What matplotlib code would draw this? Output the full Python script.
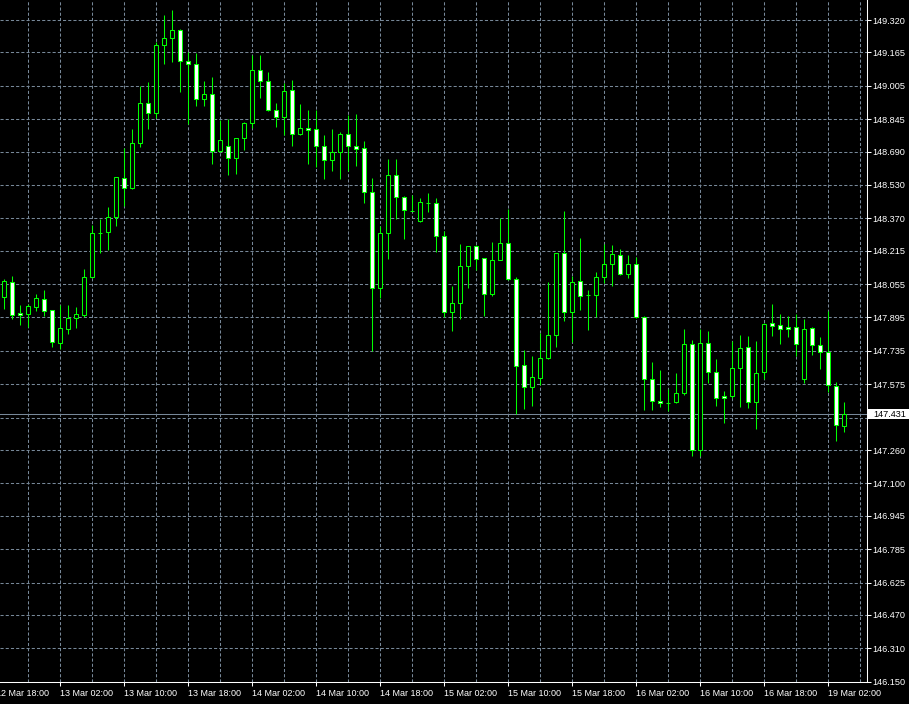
import numpy as np
import matplotlib
matplotlib.use("Agg")
import matplotlib.pyplot as plt
from matplotlib.patches import Rectangle
from matplotlib import transforms

# hourly bars, 12 Mar 19:00 .. 19 Mar 04:00
opens = [147.995, 148.066, 147.915, 147.913, 147.947, 147.982, 147.930, 147.774, 147.838, 147.891,
         147.908, 148.088, 148.300, 148.303, 148.375, 148.562, 148.514, 148.729, 148.921, 148.876,
         149.199, 149.232, 149.271, 149.122, 149.108, 148.940, 148.964, 148.691, 148.715, 148.658,
         148.753, 148.825, 149.079, 149.026, 148.887, 148.854, 148.983, 148.772, 148.801, 148.796,
         148.715, 148.648, 148.686, 148.772, 148.715, 148.705, 148.495, 148.035, 148.298, 148.576,
         148.471, 148.406, 148.359, 148.443, 148.442, 148.284, 147.920, 147.963, 148.140, 148.236,
         148.178, 148.006, 148.172, 148.250, 148.078, 147.666, 147.561, 147.604, 147.700, 147.810,
         148.203, 147.920, 148.068, 148.001, 148.004, 148.088, 148.150, 148.193, 148.102, 148.150,
         147.896, 147.599, 147.494, 147.487, 147.489, 147.532, 147.767, 147.260, 147.771, 147.632,
         147.517, 147.517, 147.652, 147.752, 147.489, 147.632, 147.867, 147.858, 147.848, 147.848,
         147.599, 147.843, 147.762, 147.728, 147.565, 147.374]

highs = [148.078, 148.094, 147.955, 147.960, 148.008, 148.027, 147.932, 147.953, 147.953, 147.945,
         148.126, 148.338, 148.368, 148.424, 148.568, 148.707, 148.798, 149.002, 149.023, 149.216,
         149.344, 149.368, 149.276, 149.165, 149.161, 149.028, 149.046, 148.841, 148.844, 148.755,
         148.833, 149.152, 149.152, 149.069, 148.922, 149.017, 149.033, 148.918, 148.889, 148.889,
         148.769, 148.798, 148.785, 148.865, 148.870, 148.740, 148.562, 148.333, 148.654, 148.654,
         148.476, 148.480, 148.467, 148.491, 148.467, 148.308, 148.046, 148.247, 148.237, 148.242,
         148.180, 148.255, 148.372, 148.413, 148.088, 147.739, 147.711, 147.821, 148.065, 148.205,
         148.405, 148.095, 148.276, 148.027, 148.113, 148.247, 148.242, 148.223, 148.194, 148.183,
         147.901, 147.682, 147.644, 147.551, 147.629, 147.838, 147.786, 147.838, 147.830, 147.696,
         147.543, 147.781, 147.810, 147.806, 147.781, 147.867, 147.958, 147.910, 147.901, 147.910,
         147.886, 147.848, 147.800, 147.925, 147.585, 147.489]

lows = [147.937, 147.889, 147.859, 147.851, 147.926, 147.902, 147.755, 147.743, 147.817, 147.846,
        147.899, 148.086, 148.203, 148.220, 148.335, 148.431, 148.512, 148.713, 148.798, 148.852,
        149.111, 149.120, 148.977, 148.823, 148.908, 148.908, 148.632, 148.689, 148.579, 148.584,
        148.699, 148.804, 148.948, 148.885, 148.809, 148.769, 148.718, 148.770, 148.632, 148.614,
        148.560, 148.598, 148.560, 148.598, 148.622, 148.445, 147.736, 147.990, 148.177, 148.368,
        148.272, 148.405, 148.354, 148.402, 148.210, 147.896, 147.832, 147.889, 148.038, 148.122,
        147.904, 147.999, 148.170, 148.076, 147.431, 147.458, 147.473, 147.570, 147.695, 147.752,
        147.880, 147.776, 147.932, 147.837, 147.899, 148.062, 148.047, 148.100, 148.086, 147.894,
        147.453, 147.453, 147.465, 147.449, 147.487, 147.522, 147.233, 147.232, 147.580, 147.473,
        147.388, 147.508, 147.465, 147.460, 147.362, 147.599, 147.805, 147.767, 147.800, 147.709,
        147.580, 147.714, 147.647, 147.537, 147.302, 147.345]

closes = [148.070, 147.906, 147.906, 147.950, 147.987, 147.925, 147.776, 147.843, 147.891, 147.910,
          148.088, 148.298, 148.302, 148.375, 148.567, 148.514, 148.729, 148.921, 148.873, 149.199,
          149.232, 149.271, 149.122, 149.108, 148.940, 148.964, 148.691, 148.744, 148.658, 148.753,
          148.825, 149.079, 149.026, 148.887, 148.854, 148.978, 148.772, 148.801, 148.792, 148.715,
          148.648, 148.686, 148.772, 148.715, 148.701, 148.495, 148.035, 148.298, 148.576, 148.471,
          148.408, 148.407, 148.447, 148.443, 148.284, 147.920, 147.963, 148.140, 148.236, 148.174,
          148.006, 148.169, 148.250, 148.078, 147.661, 147.561, 147.609, 147.700, 147.810, 148.203,
          147.920, 148.064, 147.997, 148.001, 148.088, 148.150, 148.198, 148.102, 148.150, 147.896,
          147.599, 147.494, 147.484, 147.487, 147.532, 147.767, 147.260, 147.771, 147.632, 147.508,
          147.508, 147.652, 147.747, 147.489, 147.628, 147.862, 147.853, 147.838, 147.838, 147.767,
          147.838, 147.762, 147.728, 147.572, 147.379, 147.431]

time_labels = ["12 Mar 18:00", "13 Mar 02:00", "13 Mar 10:00", "13 Mar 18:00",
               "14 Mar 02:00", "14 Mar 10:00", "14 Mar 18:00", "15 Mar 02:00",
               "15 Mar 10:00", "15 Mar 18:00", "16 Mar 02:00", "16 Mar 10:00",
               "16 Mar 18:00", "19 Mar 02:00"]

price_ticks = [149.320, 149.165, 149.005, 148.845, 148.690, 148.530, 148.370,
               148.215, 148.055, 147.895, 147.735, 147.575, 147.415, 147.260,
               147.100, 146.945, 146.785, 146.625, 146.470, 146.310, 146.150]

last_price = 147.431

bg = "black"
fg = "white"
grid_c = "#778899"
candle_c = "#00ff00"

plt.rcParams['font.family'] = ['Liberation Sans', 'DejaVu Sans']

fig = plt.figure(figsize=(9.09, 7.04), dpi=100, facecolor=bg)
ax = fig.add_axes([0, 21.7 / 704, 867 / 909, 682.3 / 704])
ax.set_facecolor(bg)

o = np.array(opens)
h = np.array(highs)
l = np.array(lows)
c = np.array(closes)
x = np.arange(len(o))
up = c >= o

# candles: hollow = bull, white = bear
ax.vlines(x, l, h, color=candle_c, lw=0.75, zorder=2)
ax.bar(x, np.abs(c - o), bottom=np.minimum(o, c), width=0.5,
       color=[bg if u else fg for u in up], edgecolor=candle_c,
       linewidth=0.75, zorder=3)

ax.axhline(last_price, color=grid_c, lw=0.75, zorder=1.5)

# grid every 4 bars, labels every 8 bars
label_pos = [-1 + 8 * k for k in range(len(time_labels))]
ax.set_xticks(label_pos)
ax.set_xticks([3 + 8 * k for k in range(len(time_labels))], minor=True)
ax.set_xticklabels([])
ax.set_yticks(price_ticks)
# the scale label under the current-price box is hidden by it
ax.set_yticklabels(["" if abs(p - last_price) < 0.03 else f"{p:.3f}"
                    for p in price_ticks])
ax.yaxis.tick_right()

ax.set_axisbelow(True)
dash = (0, (3, 2))
ax.xaxis.grid(True, which='both', color=grid_c, lw=0.75, linestyle=dash)
ax.yaxis.grid(True, color=grid_c, lw=0.75, linestyle=dash)

ax.tick_params(axis='x', which='major', direction='out', length=3,
               width=0.75, color=fg)
ax.tick_params(axis='x', which='minor', length=0)
ax.tick_params(axis='y', direction='out', length=3, width=0.75, color=fg,
               labelcolor=fg, labelsize=6.6, pad=1.2)

for s in ['top', 'left']:
    ax.spines[s].set_visible(False)
for s in ['right', 'bottom']:
    ax.spines[s].set_color(fg)
    ax.spines[s].set_linewidth(0.75)

tx = transforms.blended_transform_factory(ax.transData, ax.transAxes)
for pos, lab in zip(label_pos, time_labels):
    ax.text(pos + 0.02, -10.7 / 682.3, lab, transform=tx, ha='left',
            va='center', color=fg, fontsize=6.5, clip_on=False)

# current price marker on the right scale
tp = transforms.blended_transform_factory(fig.transFigure, ax.transData)
fig.add_artist(Rectangle((868 / 909, last_price - 0.024), 41 / 909, 0.048,
                         facecolor=fg, edgecolor='none', transform=tp,
                         zorder=5))
fig.text(873 / 909, last_price, f"{last_price:.3f}", transform=tp,
         ha='left', va='center', color='black', fontsize=6.6, zorder=6)

ax.set_xlim(-4.3 / 8, (867 - 4.3) / 8)
ax.set_ylim(146.1476, 149.4158)

fig.savefig("out.png", dpi=100, facecolor=bg)
